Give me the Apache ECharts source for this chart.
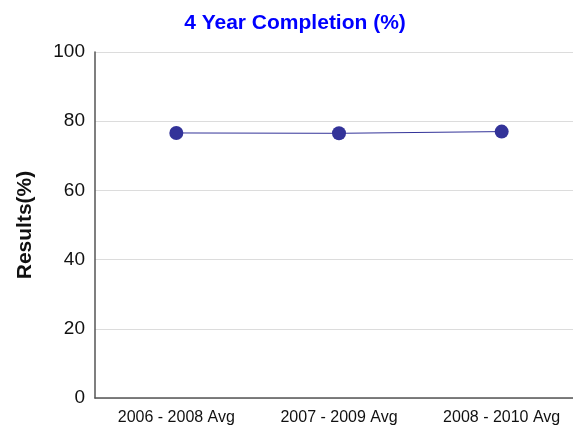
<!DOCTYPE html>
<html>
<head>
<meta charset="utf-8">
<script src="https://cdn.jsdelivr.net/npm/echarts@6/dist/echarts.min.js"></script>
<style>html,body{margin:0;padding:0;background:#fff;overflow:hidden;width:573px;height:430px}#c{width:583px;height:430px}</style>
</head>
<body>
<div id="c"></div>
<script>
var categories = ["2006 - 2008 Avg", "2007 - 2009 Avg", "2008 - 2010 Avg"];
var completion = [76.6, 76.5, 77.0];
var yTicks = [0, 20, 40, 60, 80, 100];

var chart = echarts.init(document.getElementById('c'));
chart.setOption({
  animation: false,
  backgroundColor: '#fff',
  title: {
    text: '4 Year Completion (%)',
    left: 290, top: 8, textAlign: 'center',
    textStyle: { color: '#0000ff', fontSize: 21, fontWeight: 'bold', fontFamily: 'Liberation Sans, Arial, sans-serif' }
  },
  grid: { left: 95, right: 0, top: 52, bottom: 32, containLabel: false },
  xAxis: {
    type: 'category', data: categories, boundaryGap: true,
    axisLine: { lineStyle: { color: '#555', width: 1.5 } },
    axisTick: { show: false },
    axisLabel: { color: '#111', fontSize: 16, margin: 12, fontFamily: 'Liberation Sans, Arial, sans-serif' }
  },
  yAxis: {
    type: 'value', min: yTicks[0], max: yTicks[yTicks.length - 1], interval: 20,
    name: 'Results(%)', nameLocation: 'middle', nameGap: 59, nameRotate: 90,
    nameTextStyle: { color: '#111', fontSize: 21, fontWeight: 'bold', fontFamily: 'Liberation Sans, Arial, sans-serif' },
    axisLine: { show: true, lineStyle: { color: '#555', width: 1.5 } },
    axisTick: { show: false },
    splitLine: { lineStyle: { color: '#dcdcdc', width: 1 } },
    axisLabel: { color: '#111', fontSize: 19, margin: 10, fontFamily: 'Liberation Sans, Arial, sans-serif' }
  },
  series: [{
    type: 'line', data: completion,
    symbol: 'circle', symbolSize: 14,
    lineStyle: { color: '#333399', width: 1 },
    itemStyle: { color: '#333399' }
  }]
});
</script>
</body>
</html>
